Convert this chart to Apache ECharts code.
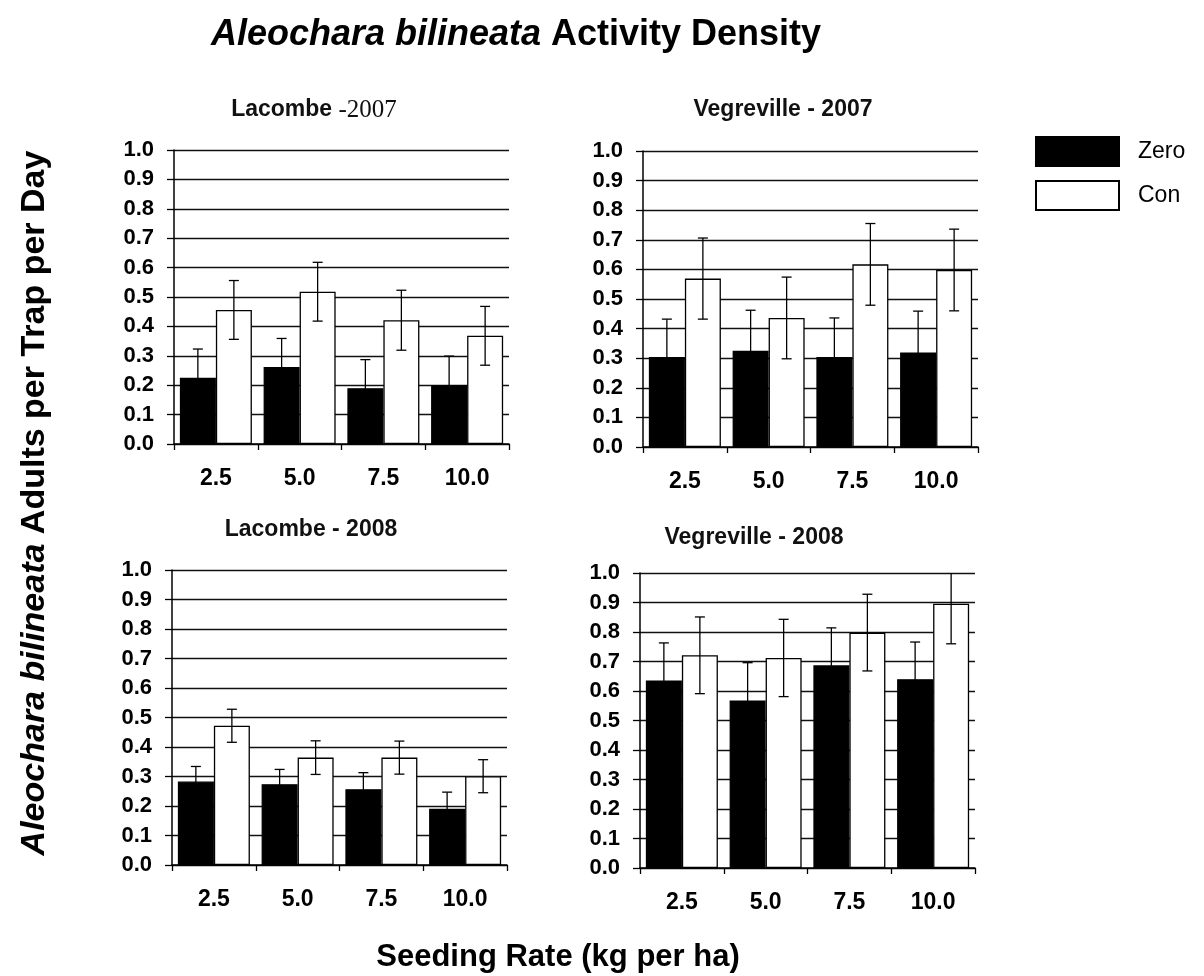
<!DOCTYPE html>
<html>
<head>
<meta charset="utf-8">
<script src="https://cdn.jsdelivr.net/npm/echarts@6/dist/echarts.min.js"></script>
<style>
  html, body { margin: 0; padding: 0; background: #fff; }
  #chart { width: 1204px; height: 976px; }
</style>
</head>
<body>
<div id="chart"></div>
<script>
// Seeding rates (kg per ha)
const categories = ['2.5', '5.0', '7.5', '10.0'];

// Mean adults per trap per day and standard errors, by site and year
const lacombe2007Zero = [0.225, 0.262, 0.190, 0.200];
const lacombe2007ZeroSE = [0.098, 0.097, 0.097, 0.099];
const lacombe2007Con = [0.456, 0.518, 0.421, 0.368];
const lacombe2007ConSE = [0.100, 0.100, 0.102, 0.100];

const vegreville2007Zero = [0.304, 0.325, 0.304, 0.319];
const vegreville2007ZeroSE = [0.128, 0.137, 0.132, 0.140];
const vegreville2007Con = [0.569, 0.436, 0.617, 0.598];
const vegreville2007ConSE = [0.137, 0.138, 0.138, 0.138];

const lacombe2008Zero = [0.283, 0.274, 0.257, 0.191];
const lacombe2008ZeroSE = [0.051, 0.050, 0.056, 0.056];
const lacombe2008Con = [0.472, 0.364, 0.364, 0.301];
const lacombe2008ConSE = [0.056, 0.057, 0.056, 0.056];

const vegreville2008Zero = [0.636, 0.568, 0.687, 0.640];
const vegreville2008ZeroSE = [0.127, 0.128, 0.127, 0.126];
const vegreville2008Con = [0.721, 0.712, 0.798, 0.896];
const vegreville2008ConSE = [0.130, 0.131, 0.130, 0.136];

const FONT = '"Liberation Sans", Arial, sans-serif';
const CAT_GAP = 0.14;

const panels = [
  { title: '{b|Lacombe }{s|-2007}', box: { left: 174, top: 150, width: 335, height: 294 }, tx: 314, ty: 110,
    zero: lacombe2007Zero, zeroSE: lacombe2007ZeroSE, con: lacombe2007Con, conSE: lacombe2007ConSE },
  { title: '{b|Vegreville - 2007}', box: { left: 643, top: 151, width: 335, height: 296 }, tx: 783, ty: 110,
    zero: vegreville2007Zero, zeroSE: vegreville2007ZeroSE, con: vegreville2007Con, conSE: vegreville2007ConSE },
  { title: '{b|Lacombe - 2008}', box: { left: 172, top: 570, width: 335, height: 295 }, tx: 311, ty: 530,
    zero: lacombe2008Zero, zeroSE: lacombe2008ZeroSE, con: lacombe2008Con, conSE: lacombe2008ConSE },
  { title: '{b|Vegreville - 2008}', box: { left: 640, top: 573, width: 335, height: 295 }, tx: 754, ty: 538,
    zero: vegreville2008Zero, zeroSE: vegreville2008ZeroSE, con: vegreville2008Con, conSE: vegreville2008ConSE }
];

// Draws a whisker with caps centred on one bar of a category pair
function errorBars(side) {
  return function (params, api) {
    const i = api.value(0), m = api.value(1), e = api.value(2);
    const band = api.size([1, 0])[0];
    const bw = band * (1 - CAT_GAP) / 2;
    const cx = api.coord([i, m])[0] + side * bw / 2;
    const yTop = api.coord([i, m + e])[1];
    const yBot = api.coord([i, m - e])[1];
    const cap = 5;
    const st = { stroke: '#000', lineWidth: 1.3 };
    return {
      type: 'group',
      children: [
        { type: 'line', shape: { x1: cx, y1: yTop, x2: cx, y2: yBot }, style: st },
        { type: 'line', shape: { x1: cx - cap, y1: yTop, x2: cx + cap, y2: yTop }, style: st },
        { type: 'line', shape: { x1: cx - cap, y1: yBot, x2: cx + cap, y2: yBot }, style: st }
      ]
    };
  };
}

const grids = [], xAxes = [], yAxes = [], series = [], graphics = [];

panels.forEach((p, k) => {
  grids.push(Object.assign({ containLabel: false }, p.box));
  xAxes.push({
    type: 'category', gridIndex: k, data: categories,
    axisLine: { lineStyle: { color: '#000', width: 1.5 } },
    axisTick: { show: true, length: 6, lineStyle: { color: '#000', width: 1.3 } },
    axisLabel: { color: '#000', fontFamily: FONT, fontWeight: 'bold', fontSize: 23, margin: 23 },
    splitLine: { show: false }
  });
  yAxes.push({
    type: 'value', gridIndex: k, min: 0, max: 1, interval: 0.1,
    axisLine: { show: true, lineStyle: { color: '#000', width: 1.5 } },
    axisTick: { show: true, length: 7, lineStyle: { color: '#000', width: 1.3 } },
    axisLabel: { color: '#000', fontFamily: FONT, fontWeight: 'bold', fontSize: 22, margin: 20,
                 formatter: v => v.toFixed(1) },
    splitLine: { show: true, lineStyle: { color: '#111', width: 1.4 } }
  });
  series.push({
    name: 'Zero', type: 'bar', xAxisIndex: k, yAxisIndex: k, data: p.zero,
    barGap: '0%', barCategoryGap: (CAT_GAP * 100) + '%',
    itemStyle: { color: '#000', borderColor: '#000', borderWidth: 1.3 }
  });
  series.push({
    name: 'Con', type: 'bar', xAxisIndex: k, yAxisIndex: k, data: p.con,
    barGap: '0%', barCategoryGap: (CAT_GAP * 100) + '%',
    itemStyle: { color: '#fff', borderColor: '#000', borderWidth: 1.3 }
  });
  series.push({
    name: 'Zero SE', type: 'custom', xAxisIndex: k, yAxisIndex: k, clip: true,
    data: p.zero.map((v, i) => [i, v, p.zeroSE[i]]), encode: { x: 0, y: 1 },
    renderItem: errorBars(-1), z: 5
  });
  series.push({
    name: 'Con SE', type: 'custom', xAxisIndex: k, yAxisIndex: k, clip: true,
    data: p.con.map((v, i) => [i, v, p.conSE[i]]), encode: { x: 0, y: 1 },
    renderItem: errorBars(1), z: 5
  });
  graphics.push({
    type: 'text', x: p.tx, y: p.ty,
    style: {
      text: p.title, align: 'center', verticalAlign: 'middle',
      rich: {
        b: { fontFamily: FONT, fontWeight: 'bold', fontSize: 23, fill: '#111' },
        s: { fontFamily: '"Liberation Serif", "Times New Roman", serif', fontSize: 25, fill: '#111' }
      }
    }
  });
});

// Shared axis titles
graphics.push({
  type: 'text', x: 35, y: 503, rotation: Math.PI / 2,
  style: {
    text: '{i|Aleochara bilineata}{n| Adults per Trap per Day}', align: 'center', verticalAlign: 'middle',
    rich: {
      i: { fontFamily: FONT, fontWeight: 'bold', fontStyle: 'italic', fontSize: 34, fill: '#000' },
      n: { fontFamily: FONT, fontWeight: 'bold', fontSize: 34, fill: '#000' }
    }
  }
});
graphics.push({
  type: 'text', x: 558, y: 957,
  style: {
    text: 'Seeding Rate (kg per ha)', align: 'center', verticalAlign: 'middle',
    fontFamily: FONT, fontWeight: 'bold', fontSize: 31, fill: '#000'
  }
});

const chart = echarts.init(document.getElementById('chart'), null, { renderer: 'canvas' });
chart.setOption({
  backgroundColor: '#fff',
  animation: false,
  title: {
    text: '{i|Aleochara bilineata}{n| Activity Density}',
    left: 511, top: 12, textAlign: 'center',
    textStyle: {
      rich: {
        i: { fontFamily: FONT, fontStyle: 'italic', fontWeight: 'bold', fontSize: 36, color: '#000' },
        n: { fontFamily: FONT, fontWeight: 'bold', fontSize: 36, color: '#000' }
      }
    }
  },
  legend: {
    data: ['Zero', 'Con'], orient: 'vertical', left: 1035, top: 136, padding: 0,
    itemWidth: 83, itemHeight: 29, itemGap: 13, icon: 'rect', selectedMode: false,
    textStyle: { fontFamily: FONT, fontSize: 23, color: '#000', padding: [0, 0, 0, 14] }
  },
  grid: grids,
  xAxis: xAxes,
  yAxis: yAxes,
  series: series,
  graphic: graphics
});
</script>
</body>
</html>
